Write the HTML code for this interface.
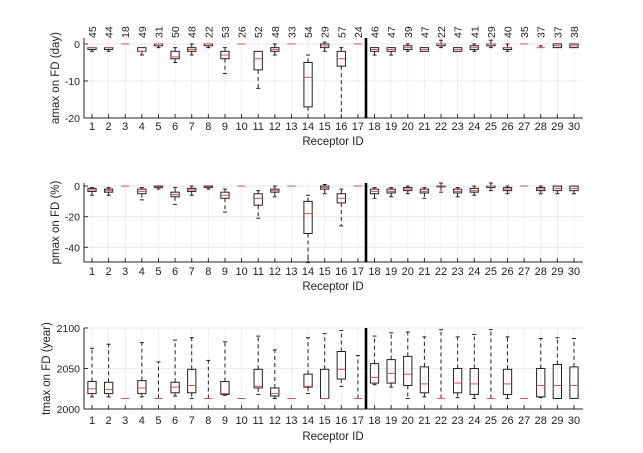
<!DOCTYPE html>
<html><head><meta charset="utf-8"><style>
html,body{margin:0;padding:0;background:#fff;width:643px;height:453px;overflow:hidden}
svg text{font-family:"Liberation Sans",Arial,sans-serif;fill:#222}
</style></head><body>
<svg id="s" width="643" height="453" xmlns="http://www.w3.org/2000/svg"></svg>
<script>
const S=document.getElementById('s');let h='';
const X0=92,DX=16.62,L=84,R=583,BW=8.3;
const xi=i=>X0+(i-1)*DX;
const counts=[45,44,18,49,31,50,48,22,53,26,52,48,33,54,29,57,24,46,47,39,47,22,47,41,29,40,35,37,37,38];
const z=v=>[v,v,v,v,v];
const P=[
{top:38,bot:118,ymin:-20,ymax:1.6,ticks:[0,-10,-20],lab:'amax on FD (day)',lx:59,tl:130,rl:145,
d:[[-2,-1.5,-1,-1,-1],[-2,-1.5,-1,-1,-1],z(0),[-3,-2,-2,-1,-1],[-1,-0.5,0,0,0],[-5,-4,-3.5,-2,-1],[-3,-2,-1.5,-1,0],[-1,-0.5,0,0,0],[-8,-4,-3,-2,-1],z(0),[-12,-7,-4,-2,-2],[-3,-2,-1.5,-1,0],z(0),[-20,-17,-9,-5,-3],[-2,-1,-0.5,0,0.5],[-20,-6,-4,-2,-1],z(0),[-3,-2,-1.5,-1,-1],[-3,-2,-1.5,-1,-1],[-2,-1.5,-1,-0.5,0],[-2,-2,-1.5,-1,-1],[-1,-0.5,0,0,1],[-2,-2,-1.5,-1,-1],[-2,-1.5,-1,-0.5,0],[-1,-0.5,0,0,1],[-2,-1.5,-1,-1,0],z(0),[-1,-1,-1,-1,-0.5],[-1,-1,-0.5,0,0],[-1,-1,-0.5,0,0]]},
{top:183,bot:262,ymin:-49.6,ymax:2,ticks:[0,-20,-40],lab:'pmax on FD (%)',lx:59,tl:275,rl:290,
d:[[-6,-3.5,-2.5,-1.5,-1],[-6,-4,-3,-2,-1],z(0),[-9,-5,-3.5,-2,-1],[-2,-1,-0.5,0,0],[-12,-7,-5.5,-4,-1],[-6,-3.5,-2.5,-1.5,0],[-2,-1,-0.5,0,0],[-17,-8,-6,-4,-2],z(0),[-21,-12.5,-8,-5,-3],[-7,-4,-3,-2,0],z(0),[-50,-31,-18,-10,-6],[-5,-2,-1,0,1],[-26,-11,-8,-5,-2],z(0),[-8,-5,-3.5,-2,-1],[-7,-4.5,-3.5,-2,-1],[-5,-3,-2,-1,0],[-8,-4.5,-3.5,-2,-1],[-4,-0.5,0,0,2],[-7,-4.5,-3.5,-2,-1],[-6,-4,-3,-1.5,0],[-3,-1,0,0,2],[-5,-3,-2,-1,0],z(0),[-5,-3,-2,-1,0],[-5,-3,-1.5,0,0],[-5,-3,-1.5,0,0]]},
{top:328,bot:409,ymin:2000,ymax:2100,ticks:[2000,2050,2100],lab:'tmax on FD (year)',lx:50,tl:424,rl:440,
d:[[2015,2019,2025,2034,2075],[2015,2019,2024,2033,2080],z(2013),[2015,2019,2026,2035,2082],[2013,2013,2013,2013,2058],[2016,2020,2027,2033,2085],[2013,2020,2029,2049,2088],[2013,2013,2013,2013,2060],[2017,2018,2019,2034,2083],z(2013),[2018,2026,2028,2049,2090],[2013,2016,2019,2026,2073],z(2013),[2019,2027,2028,2043,2088],[2013,2013,2013,2049,2093],[2028,2037,2049,2071,2097],[2013,2013,2013,2013,2066],[2030,2032,2039,2056,2090],[2027,2032,2044,2061,2094],[2013,2029,2043,2065,2095],[2015,2020,2031,2052,2089],[2013,2013,2013,2013,2098],[2014,2020,2032,2050,2089],[2013,2018,2031,2050,2092],[2013,2013,2013,2013,2098],[2013,2018,2031,2049,2089],z(2013),[2014,2015,2029,2050,2087],[2013,2013,2029,2055,2088],[2013,2013,2029,2052,2087]]}
];
P.forEach((p,pi)=>{
 const Y=v=>p.bot-(v-p.ymin)/(p.ymax-p.ymin)*(p.bot-p.top);
 for(let i=1;i<=30;i++)h+=`<line x1="${xi(i)}" y1="${p.top}" x2="${xi(i)}" y2="${p.bot}" stroke="#ececec" stroke-width="0.8"/>`;
 p.ticks.forEach(t=>{h+=`<line x1="${L}" y1="${Y(t)}" x2="${R}" y2="${Y(t)}" stroke="#e6e6e6" stroke-width="0.8"/>`;
  h+=`<line x1="${L}" y1="${Y(t)}" x2="${L+4}" y2="${Y(t)}" stroke="#333"/>`;
  h+=`<text x="${L-4}" y="${Y(t)+4}" font-size="10.5" text-anchor="end">${t}</text>`;});
 p.d.forEach((d,k)=>{const x=xi(k+1),b=BW/2;
  const [lo,q1,md,q3,hi]=d.map(Y);
  if(lo-q1>0.5)h+=`<line x1="${x}" y1="${q1}" x2="${x}" y2="${lo}" stroke="#222" stroke-dasharray="4,3"/><line x1="${x-2}" y1="${lo}" x2="${x+2}" y2="${lo}" stroke="#222"/>`;
  if(q3-hi>0.5)h+=`<line x1="${x}" y1="${q3}" x2="${x}" y2="${hi}" stroke="#222" stroke-dasharray="4,3"/><line x1="${x-2}" y1="${hi}" x2="${x+2}" y2="${hi}" stroke="#222"/>`;
  if(q1-q3>0.5)h+=`<rect x="${x-b}" y="${q3}" width="${BW}" height="${q1-q3}" fill="none" stroke="#222" stroke-width="1"/>`;
  h+=`<line x1="${x-b}" y1="${md}" x2="${x+b}" y2="${md}" stroke="#d9534f" stroke-width="1"/>`;
  h+=`<line x1="${x}" y1="${p.bot}" x2="${x}" y2="${p.bot-4}" stroke="#333"/>`;
  h+=`<text x="${x}" y="${p.tl}" font-size="11" text-anchor="middle">${k+1}</text>`;
  if(pi==0)h+=`<text transform="translate(${x+4},38) rotate(-90)" font-size="10.5">${counts[k]}</text>`;
 });
 h+=`<line x1="${L}" y1="${p.top}" x2="${L}" y2="${p.bot}" stroke="#222"/><line x1="${L}" y1="${p.bot}" x2="${R}" y2="${p.bot}" stroke="#222"/>`;
 h+=`<line x1="366" y1="${p.top}" x2="366" y2="${p.bot}" stroke="#000" stroke-width="2.6"/>`;
 h+=`<text x="333" y="${p.rl}" font-size="11.5" text-anchor="middle">Receptor ID</text>`;
 h+=`<text transform="translate(${p.lx},${(p.top+p.bot)/2}) rotate(-90)" font-size="11.5" text-anchor="middle">${p.lab}</text>`;
});
S.innerHTML=h;
</script>
</body></html>
